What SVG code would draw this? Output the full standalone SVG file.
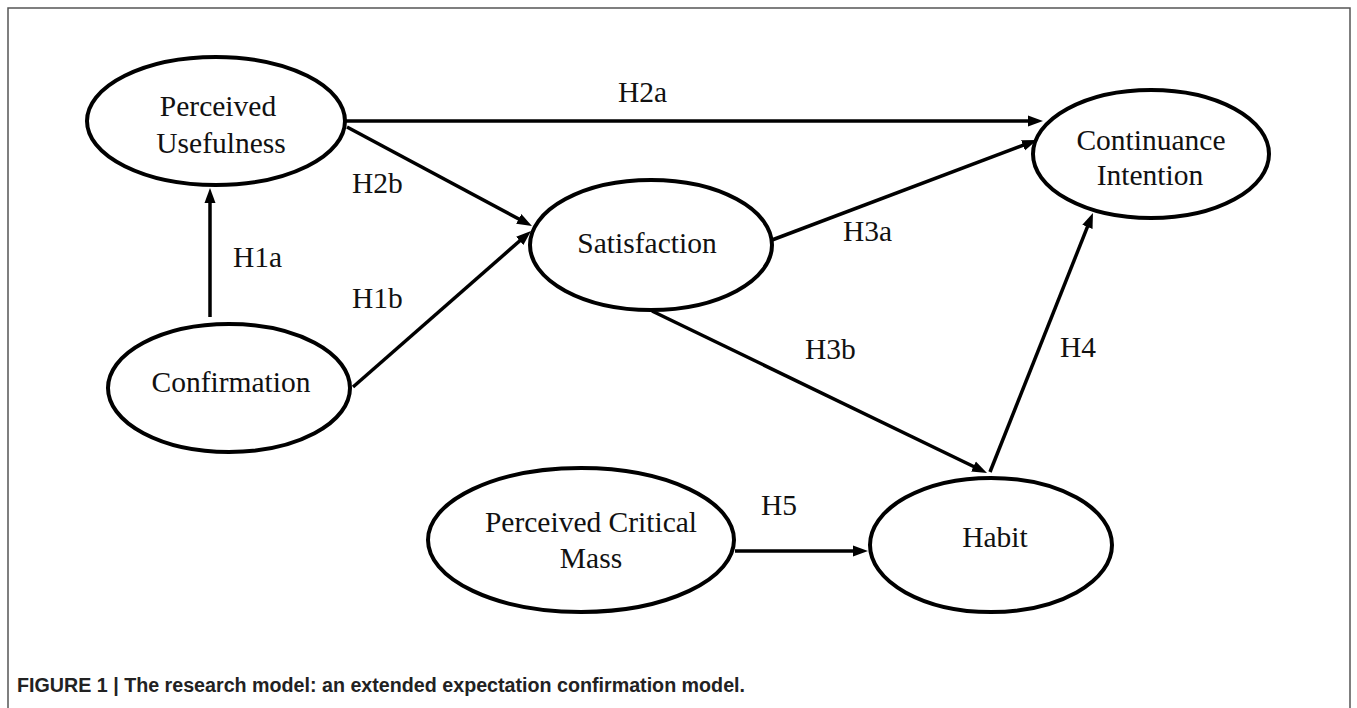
<svg xmlns="http://www.w3.org/2000/svg" width="1357" height="708" viewBox="0 0 1357 708">
<style>
.node{fill:#fff;stroke:#000;stroke-width:4}
.t{font-family:"Liberation Serif","Times New Roman",serif;font-size:29.5px;fill:#111;text-anchor:middle}
.lab{font-family:"Liberation Serif","Times New Roman",serif;font-size:29.5px;fill:#111}
.c{stroke:#000;stroke-width:3.5;fill:none;marker-end:url(#ah)}
.cap{font-family:"Liberation Sans",Arial,sans-serif;font-size:19.5px;font-weight:bold;fill:#222}
</style>
<defs>
<marker id="ah" markerUnits="userSpaceOnUse" markerWidth="16" markerHeight="12" viewBox="0 0 16 12" refX="7" refY="6" orient="auto">
<path d="M0,0.5 L15,6 L0,11.5 z" fill="#000"/>
</marker>
</defs>
<rect x="0" y="0" width="1357" height="708" fill="#fff"/>
<rect x="8" y="8" width="1342" height="720" fill="none" stroke="#555" stroke-width="1.5"/>
<g id="connectors">
<line class="c" x1="210" y1="317" x2="210" y2="196"/>
<line class="c" x1="353" y1="387" x2="525" y2="236.3"/>
<line class="c" x1="347" y1="127" x2="524.9" y2="222.2"/>
<line class="c" x1="345" y1="121" x2="1035" y2="121"/>
<line class="c" x1="772" y1="240" x2="1029.5" y2="142.8"/>
<line class="c" x1="652" y1="311" x2="979.8" y2="469.5"/>
<line class="c" x1="990" y1="472" x2="1090" y2="220.4"/>
<line class="c" x1="735" y1="551" x2="860" y2="551"/>
</g>
<g id="labels">
<text class="lab" x="618" y="102">H2a</text>
<text class="lab" x="352" y="193">H2b</text>
<text class="lab" x="233" y="267">H1a</text>
<text class="lab" x="352" y="308">H1b</text>
<text class="lab" x="843" y="241">H3a</text>
<text class="lab" x="805" y="359">H3b</text>
<text class="lab" x="1060" y="357">H4</text>
<text class="lab" x="761" y="515">H5</text>
</g>
<g id="perceived-usefulness">
<ellipse class="node" cx="216" cy="121" rx="129" ry="64"/>
<text class="t" x="218" y="116">Perceived</text>
<text class="t" x="221" y="153">Usefulness</text>
</g>
<g id="confirmation">
<ellipse class="node" cx="229" cy="388" rx="121" ry="64"/>
<text class="t" x="231" y="392">Confirmation</text>
</g>
<g id="satisfaction">
<ellipse class="node" cx="651" cy="245" rx="121" ry="65"/>
<text class="t" x="647" y="253">Satisfaction</text>
</g>
<g id="continuance-intention">
<ellipse class="node" cx="1151" cy="154" rx="118" ry="64"/>
<text class="t" x="1151" y="150">Continuance</text>
<text class="t" x="1150" y="185">Intention</text>
</g>
<g id="habit">
<ellipse class="node" cx="991" cy="545" rx="121" ry="67"/>
<text class="t" x="995" y="547">Habit</text>
</g>
<g id="perceived-critical-mass">
<ellipse class="node" cx="581" cy="540" rx="153" ry="72"/>
<text class="t" x="591" y="532">Perceived Critical</text>
<text class="t" x="591" y="568">Mass</text>
</g>
<text class="cap" x="17" y="692" textLength="728" lengthAdjust="spacingAndGlyphs">FIGURE 1 | The research model: an extended expectation confirmation model.</text>
</svg>
